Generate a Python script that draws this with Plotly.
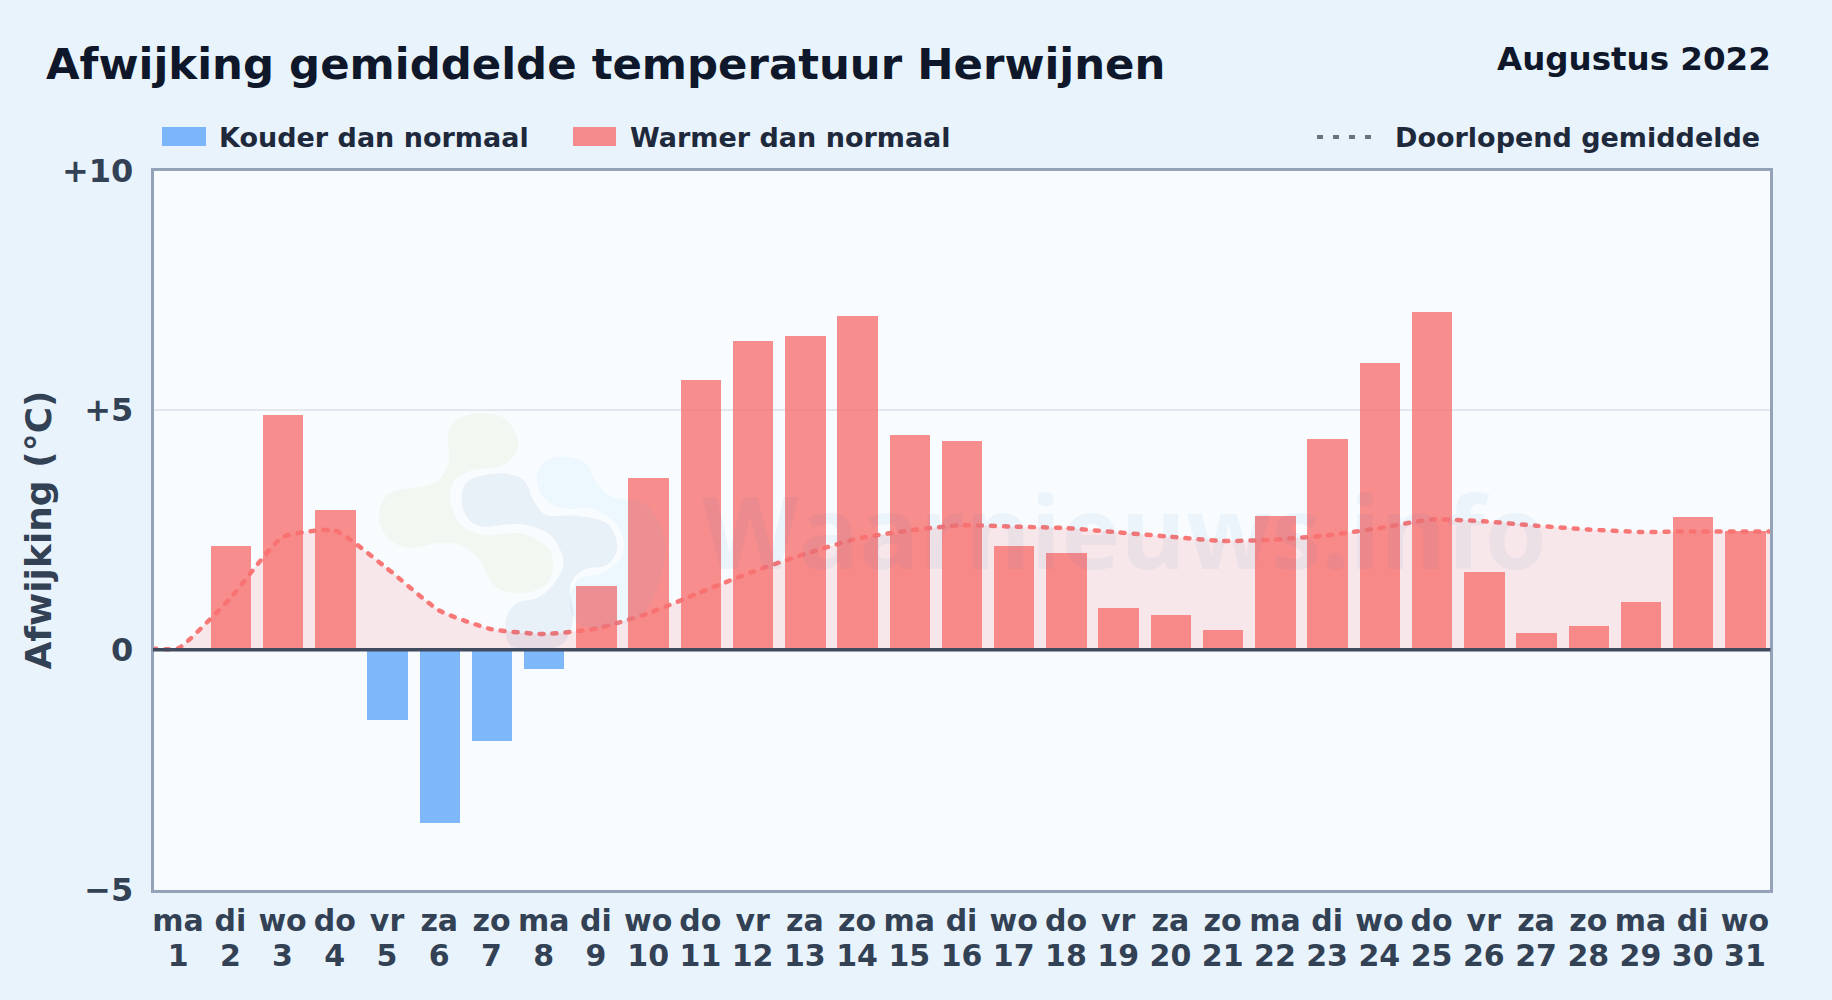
import plotly.graph_objects as go

W, H = 1832, 1000

days = list(range(1, 32))
day_names = ["ma","di","wo","do","vr","za","zo","ma","di","wo","do","vr","za","zo","ma","di",
             "wo","do","vr","za","zo","ma","di","wo","do","vr","za","zo","ma","di","wo"]
deviation = [0.0, 2.18, 4.92, 2.93, -1.46, -3.6, -1.9, -0.39, 1.35, 3.59, 5.65, 6.46, 6.55, 6.97, 4.49, 4.36,
             2.18, 2.04, 0.88, 0.74, 0.42, 2.81, 4.40, 5.99, 7.05, 1.64, 0.37, 0.50, 1.01, 2.78, 2.49]
running_mean = [0.03, 1.08, 2.35, 2.49, 1.70, 0.82, 0.43, 0.33, 0.44, 0.76, 1.20, 1.63, 2.0, 2.32, 2.49, 2.6,
                2.57, 2.54, 2.45, 2.36, 2.27, 2.3, 2.39, 2.54, 2.72, 2.68, 2.59, 2.51, 2.46, 2.47, 2.47]
y_ticks = [-5, 0, 5, 10]
y_tick_labels = ["\u22125", "0", "+5", "+10"]

RED = "rgba(248,113,113,0.8)"
BLUE = "rgba(96,165,250,0.8)"
FONT = "DejaVu Sans"
INK = "#334155"


def px(x):
    return x / W


def py(y):
    return 1 - y / H


def blob(points):
    """Closed smooth decorative path (page pixels -> paper), Catmull-Rom to Bezier."""
    n = len(points)
    d = f"M {px(points[0][0]):.5f} {py(points[0][1]):.5f}"
    for i in range(n):
        p0, p1, p2, p3 = points[i - 1], points[i], points[(i + 1) % n], points[(i + 2) % n]
        c1 = (p1[0] + (p2[0] - p0[0]) / 6, p1[1] + (p2[1] - p0[1]) / 6)
        c2 = (p2[0] - (p3[0] - p1[0]) / 6, p2[1] - (p3[1] - p1[1]) / 6)
        d += (f" C {px(c1[0]):.5f} {py(c1[1]):.5f} {px(c2[0]):.5f} {py(c2[1]):.5f}"
              f" {px(p2[0]):.5f} {py(p2[1]):.5f}")
    return d + " Z"


def logo(points):
    return [(360 + a / 3, 390 + b / 3) for a, b in points]


logo_green = logo([(265,130),(300,85),(370,70),(440,90),(475,165),(430,225),(340,240),(285,270),(270,330),
                   (300,400),(370,435),(480,430),(560,470),(580,530),(550,590),(470,610),(400,585),(360,510),
                   (300,465),(230,460),(150,475),(85,445),(57,380),(90,310),(220,280),(265,220)])
logo_navy = logo([(305,320),(330,270),(420,250),(490,270),(520,330),(560,375),(650,378),(740,400),(772,470),
                  (740,525),(670,540),(630,590),(640,680),(610,760),(530,780),(450,765),(438,690),(470,640),
                  (540,620),(590,570),(610,510),(570,435),(480,402),(370,410),(320,380)])
logo_sky = logo([(530,260),(560,212),(620,200),(680,222),(710,280),(760,322),(860,345),(915,450),(900,570),
                 (850,670),(770,705),(680,712),(640,680),(630,620),(660,565),(730,548),(790,490),(775,410),
                 (700,358),(610,355),(550,320)])

fig = go.Figure()

fig.add_trace(go.Bar(
    x=days, y=deviation, width=0.775, name="Afwijking",
    marker=dict(color=[RED if v >= 0 else BLUE for v in deviation], line=dict(width=0)),
    showlegend=False,
))
fig.add_trace(go.Scatter(
    x=[0.5] + days + [31.5], y=[running_mean[0]] + running_mean + [running_mean[-1]],
    mode="lines", name="Doorlopend gemiddelde", showlegend=False,
    line=dict(color="rgba(248,113,113,0.95)", width=4.5, dash="4px,9px", shape="spline", smoothing=0.5),
    fill="tozeroy", fillcolor="rgba(248,113,113,0.15)",
))
# empty carrier for the second tick row (day numbers)
fig.add_trace(go.Scatter(x=days, y=[None] * 31, xaxis="x2", yaxis="y", mode="lines",
                         showlegend=False, hoverinfo="skip"))

shapes = [
    # zero line
    dict(type="line", xref="paper", yref="y", x0=px(153), x1=px(1770.5), y0=0, y1=0,
         line=dict(color="#414b5f", width=3.5), layer="above"),
    # legend swatches
    dict(type="rect", xref="paper", yref="paper", x0=px(162), x1=px(206), y0=py(127), y1=py(146),
         fillcolor=BLUE, line=dict(width=0)),
    dict(type="rect", xref="paper", yref="paper", x0=px(573), x1=px(616), y0=py(127), y1=py(146),
         fillcolor=RED, line=dict(width=0)),
    dict(type="line", xref="paper", yref="paper", x0=px(1317), x1=px(1374), y0=py(137), y1=py(137),
         line=dict(color="#6b7280", width=4, dash="6px,10px")),
    # faint logo watermark
    dict(type="path", xref="paper", yref="paper", path=blob(logo_green), fillcolor="rgba(150,190,60,0.07)",
         line=dict(width=0), layer="above"),
    dict(type="path", xref="paper", yref="paper", path=blob(logo_navy), fillcolor="rgba(30,80,150,0.07)",
         line=dict(width=0), layer="above"),
    dict(type="path", xref="paper", yref="paper", path=blob(logo_sky), fillcolor="rgba(56,170,245,0.06)",
         line=dict(width=0), layer="above"),
]


def label(text, x, y, size, color, anchor="left", family=FONT, weight="bold"):
    return dict(text=text, xref="paper", yref="paper", x=px(x), y=py(y), xanchor=anchor, yanchor="middle",
                showarrow=False, borderpad=0, font=dict(family=family, size=size, color=color, weight=weight))


annotations = [
    label("Afwijking gemiddelde temperatuur Herwijnen", 45, 64, 43.4, "#0f172a"),
    label("Augustus 2022", 1772, 59, 32.5, "#0f172a", anchor="right"),
    label("Kouder dan normaal", 218, 137, 27, "#1e293b"),
    label("Warmer dan normaal", 629, 137, 27, "#1e293b"),
    label("Doorlopend gemiddelde", 1394, 137, 27, "#1e293b"),
    label("Waarnieuws.info", 1124, 530, 100, "rgba(40,110,190,0.055)", anchor="center",
          family="Open Sans", weight=700),
]

x_range = [0.529, 31.48]

fig.update_layout(
    width=W, height=H, autosize=False,
    margin=dict(l=0, r=0, t=0, b=0, pad=0, autoexpand=False),
    paper_bgcolor="#e8f3fc", plot_bgcolor="#f8fcff",
    barmode="overlay", showlegend=False, bargap=0,
    shapes=shapes, annotations=annotations,
    font=dict(family=FONT),
    xaxis=dict(
        domain=[px(153.5), px(1770)], range=x_range, anchor="y",
        tickmode="array", tickvals=days, ticktext=day_names,
        tickfont=dict(size=30, color=INK, weight="bold"), ticks="", ticklabelstandoff=3,
        showgrid=False, zeroline=False, showline=True, linecolor="#94a3b8", linewidth=2.5, mirror=True,
    ),
    xaxis2=dict(
        domain=[px(153.5), px(1770)], range=x_range, overlaying="x", anchor="free", position=py(890),
        side="bottom", tickmode="array", tickvals=days, ticktext=[str(d) for d in days],
        tickfont=dict(size=30, color=INK, weight="bold"), ticks="", ticklabelstandoff=45,
        showgrid=False, zeroline=False, showline=False,
    ),
    yaxis=dict(
        domain=[py(889.5), py(170.5)], range=[-5, 10], anchor="x",
        tickmode="array", tickvals=y_ticks, ticktext=y_tick_labels,
        tickfont=dict(size=32, color=INK, weight="bold"), ticks="", ticklabelstandoff=11,
        showgrid=True, gridcolor="#e2e8f0", gridwidth=2, zeroline=False,
        showline=True, linecolor="#94a3b8", linewidth=2.5, mirror=True,
        title=dict(text="Afwijking (\u00b0C)", font=dict(size=36, color=INK, weight="bold"), standoff=0),
    ),
)

fig.write_html(
    "out.html",
    config=dict(displayModeBar=False),
    post_script=("document.body.style.margin='0';document.body.style.background='#e8f3fc';"
                 "document.querySelectorAll('.scatterlayer .js-line').forEach(function(p){"
                 "p.style.strokeLinecap='round';});"),
)
